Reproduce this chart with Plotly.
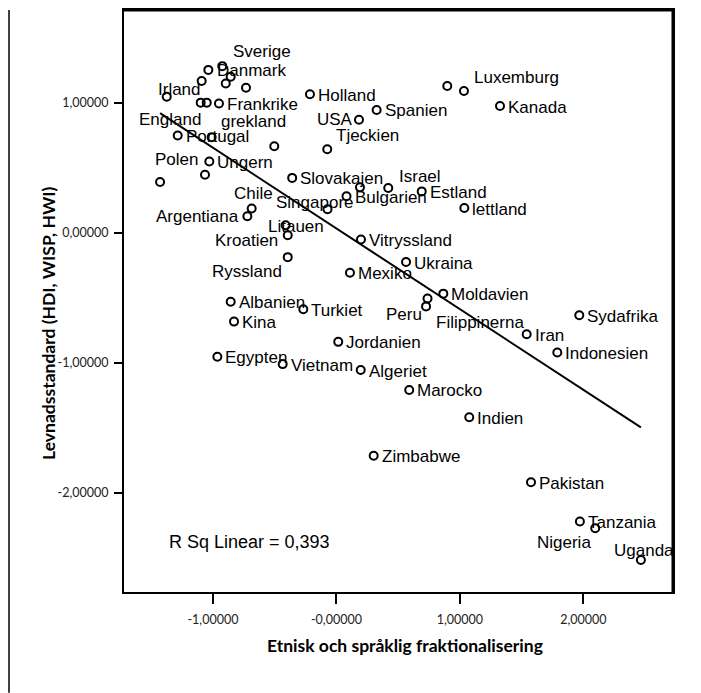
import numpy as np
import plotly.graph_objects as go

# ---------------- data ----------------
countries = [
    "", "Danmark", "Sverige", "", "", "",
    "Irland", "", "England", "Frankrike", "Holland", "Spanien", "USA",
    "Portugal", "grekland", "", "Tjeckien", "Ungern", "Polen", "",
    "Slovakajen", "", "Israel", "Bulgarien", "Estland", "lettland",
    "Chile", "Argentiana", "Singapore", "Litauen", "Kroatien", "Ryssland",
    "Vitryssland", "Mexiko", "Ukraina", "", "Luxemburg", "Kanada",
    "Albanien", "Turkiet", "Kina", "Jordanien", "Egypten", "Vietnam",
    "Algeriet", "Peru", "Filippinerna", "Moldavien", "Iran", "Sydafrika",
    "Indonesien", "Marocko", "Indien", "Zimbabwe", "Pakistan", "Tanzania",
    "Nigeria", "Uganda",
]
fractionalisation = [
    -1.037, -0.924, -0.856, -0.896, -1.091, -0.732,
    -1.374, -1.099, -1.050, -0.951, -0.214, 0.326, 0.183,
    -1.285, -1.010, -0.503, -0.074, -1.029, -1.064, -1.428,
    -0.358, 0.191, 0.420, 0.082, 0.691, 1.036,
    -0.686, -0.721, -0.072, -0.411, -0.394, -0.394,
    0.199, 0.110, 0.564, 0.898, 1.033, 1.325,
    -0.856, -0.268, -0.829, 0.015, -0.964, -0.435,
    0.197, 0.738, 0.726, 0.866, 1.541, 1.967,
    1.789, 0.590, 1.076, 0.302, 1.576, 1.972,
    2.096, 2.466,
]
living_standard = [
    1.253, 1.282, 1.200, 1.149, 1.167, 1.116,
    1.047, 1.001, 1.001, 0.995, 1.066, 0.945, 0.870,
    0.748, 0.735, 0.666, 0.643, 0.548, 0.446, 0.390,
    0.422, 0.349, 0.344, 0.280, 0.318, 0.190,
    0.186, 0.127, 0.180, 0.058, -0.019, -0.188,
    -0.052, -0.308, -0.226, 1.129, 1.090, 0.975,
    -0.531, -0.589, -0.684, -0.840, -0.955, -1.011,
    -1.057, -0.506, -0.567, -0.469, -0.781, -0.635,
    -0.922, -1.210, -1.420, -1.717, -1.920, -2.223,
    -2.275, -2.519,
]
# fitted line as drawn in the chart (slope / intercept)
fit_slope = -0.621
fit_intercept = 0.033
x_ticks = [-1, 0, 1, 2]
x_ticktext = ["-1,00000", "-0,00000", "1,00000", "2,00000"]
y_ticks = [1, 0, -1, -2]
y_ticktext = ["1,00000", "0,00000", "-1,00000", "-2,00000"]
r_sq_text = "R Sq Linear = 0,393"

# ---------------- label placement (pixels: dx, dy-down, anchor) ----------------
DEFAULT_OFF = (7, 1, "left")
label_offsets = {
    "Sverige": (1, -25, "left"),
    "Danmark": (-6, 4, "left"),
    "Irland": (-10, -7, "left"),
    "England": (-69, 17, "left"),
    "grekland": (8, -16, "left"),
    "USA": (-5, 0, "right"),
    "Tjeckien": (8, -14, "left"),
    "Polen": (-6, -15, "right"),
    "Israel": (10, -12, "left"),
    "Chile": (-19, -15, "left"),
    "Argentiana": (-7, 0, "right"),
    "Singapore": (-53, -7, "left"),
    "Litauen": (-19, 1, "left"),
    "Kroatien": (-9, 5, "right"),
    "Ryssland": (-5, 14, "right"),
    "Luxemburg": (9, -14, "left"),
    "Peru": (-5, 16, "right"),
    "Filippinerna": (9, 16, "left"),
    "Nigeria": (-3, 14, "right"),
    "Uganda": (-28, -10, "left"),
}

x = np.array(fractionalisation)
y = np.array(living_standard)

fig = go.Figure()

xl = np.array([x.min(), x.max()])
fig.add_trace(go.Scatter(
    x=xl, y=fit_slope * xl + fit_intercept, mode="lines",
    line=dict(color="black", width=2), hoverinfo="skip", showlegend=False,
))

fig.add_trace(go.Scatter(
    x=x, y=y, mode="markers", text=countries,
    marker=dict(symbol="circle-open", size=8, color="black",
                line=dict(color="black", width=2)),
    showlegend=False,
))

annotations = []
for name, xv, yv in zip(countries, fractionalisation, living_standard):
    if not name:
        continue
    dx, dy, anchor = label_offsets.get(name, DEFAULT_OFF)
    annotations.append(dict(
        x=xv, y=yv, xref="x", yref="y", text=name, showarrow=False,
        xanchor=anchor, yanchor="middle", xshift=dx, yshift=-dy,
        font=dict(family="Liberation Sans, Arial", size=17, color="black"),
        borderpad=0,
    ))

# page offset of the plot div (default body margin)
OFF = 8
FIG_W, FIG_H = 701 - OFF, 693 - OFF
# plot-area geometry (page pixels)
L, R, T, B = 124, 673, 8, 592
W, H = R - L, B - T


def px(xp):
    return (xp - L) / W


def py(yp):
    return (B - yp) / H


annotations.append(dict(
    x=px(167), y=py(542), xref="paper", yref="paper", text=r_sq_text,
    showarrow=False, xanchor="left", yanchor="middle",
    font=dict(family="Liberation Sans, Arial", size=18, color="black"),
))
annotations.append(dict(
    x=px(405), y=py(646), xref="paper", yref="paper",
    text="<b>Etnisk och språklig fraktionalisering</b>",
    showarrow=False, xanchor="center", yanchor="middle",
    font=dict(family="Lato", size=17.5, color="black"),
))
annotations.append(dict(
    x=px(49), y=py(323), xref="paper", yref="paper",
    text="<b>Levnadsstandard (HDI, WISP, HWI)</b>",
    showarrow=False, xanchor="center", yanchor="middle", textangle=-90,
    font=dict(family="Lato", size=17.5, color="black"),
))

shapes = [
    # thicker top and right frame edges
    dict(type="line", xref="paper", yref="paper", x0=0, x1=1, y0=1, y1=1,
         line=dict(color="black", width=3)),
    dict(type="line", xref="paper", yref="paper", x0=1, x1=1, y0=0, y1=1,
         line=dict(color="black", width=3)),
    # page border at left
    dict(type="line", xref="paper", yref="paper", x0=px(9), x1=px(9),
         y0=py(OFF), y1=py(693), line=dict(color="black", width=1.5)),
]

fig.update_layout(
    width=FIG_W, height=FIG_H,
    margin=dict(l=L - OFF, r=701 - R, t=T - OFF, b=693 - B, pad=0),
    paper_bgcolor="white", plot_bgcolor="white",
    annotations=annotations, shapes=shapes,
    xaxis=dict(
        range=[-1.720, 2.726], tickvals=x_ticks, ticktext=x_ticktext,
        showgrid=False, zeroline=False, showline=True, mirror=True,
        linecolor="black", linewidth=2, ticks="outside", ticklen=10,
        tickwidth=2, tickcolor="black", ticklabelstandoff=5,
        tickfont=dict(family="Lato", size=12.5, color="#222"),
    ),
    yaxis=dict(
        range=[-2.765, 1.714], tickvals=y_ticks, ticktext=y_ticktext,
        showgrid=False, zeroline=False, showline=True, mirror=True,
        linecolor="black", linewidth=2, ticks="outside", ticklen=8,
        tickwidth=2, tickcolor="black", ticklabelstandoff=3,
        tickfont=dict(family="Lato", size=12.5, color="#222"),
    ),
)

fig.write_html("out.html")
